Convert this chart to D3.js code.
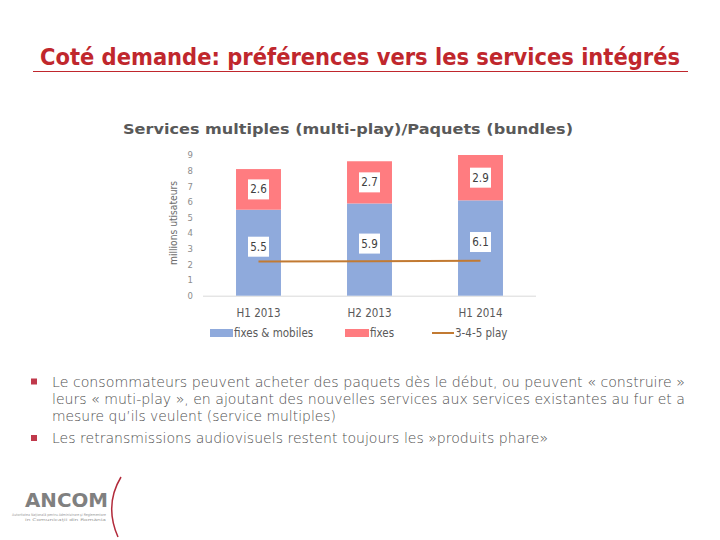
<!DOCTYPE html>
<html><head><meta charset="utf-8">
<script src="https://cdn.jsdelivr.net/npm/d3@7"></script>
<style>body{margin:0;background:#fff}svg{display:block}</style>
</head><body>
<script>
const categories = ["H1 2013", "H2 2013", "H1 2014"];
const fixesMobiles = [5.5, 5.9, 6.1];
const fixes = [2.6, 2.7, 2.9];
const play345 = [2.18, 2.21, 2.24];
const yTicks = [0,1,2,3,4,5,6,7,8,9];
const seriesNames = ["fixes & mobiles", "fixes", "3-4-5 play"];
const bullets = [
  ["Le consommateurs peuvent acheter des paquets dès le début, ou peuvent « construire »",
   "leurs « muti-play », en ajoutant des nouvelles services aux services existantes au fur et a",
   "mesure qu’ils veulent (service multiples)"],
  ["Les retransmissions audiovisuels restent toujours les »produits phare»"]
];

const W=720,H=540;
const svg=d3.select("body").append("svg").attr("width",W).attr("height",H);
const cBlue="#8FAADC", cPink="#FF7C80", cLine="#C27A32", gray="#595959";

// header
svg.append("text").attr("x",40).attr("y",64.5)
  .attr("font-family","DejaVu Sans Condensed, DejaVu Sans").attr("font-weight","bold")
  .attr("font-size",23.5).attr("fill","#C0272D")
  .attr("textLength",640).attr("lengthAdjust","spacingAndGlyphs")
  .text("Coté demande: préférences vers les services intégrés");
svg.append("line").attr("x1",33).attr("x2",688).attr("y1",71.5).attr("y2",71.5).attr("stroke","#C0272D").attr("stroke-width",1);

// chart title
svg.append("text").attr("x",348).attr("y",134).attr("text-anchor","middle")
  .attr("font-family","DejaVu Sans").attr("font-weight","bold").attr("font-size",14.5)
  .attr("fill",gray).attr("textLength",450).attr("lengthAdjust","spacingAndGlyphs")
  .text("Services multiples (multi-play)/Paquets (bundles)");

const x=d3.scaleBand().domain(categories).range([203,536]);
const y=d3.scaleLinear().domain([0,9]).range([295.7,155]);
const bw=x.bandwidth()*0.405;
const cx=c=>x(c)+x.bandwidth()/2;

// axis line
svg.append("line").attr("x1",203).attr("x2",536).attr("y1",y(0)+0.5).attr("y2",y(0)+0.5).attr("stroke","#d9d9d9");

// y ticks
const yAxis=d3.axisLeft(y).tickValues(yTicks).tickSize(0).tickPadding(0).tickFormat(d3.format("d"));
const ga=svg.append("g").attr("transform","translate(193,0)").call(yAxis);
ga.select(".domain").remove();
ga.selectAll("text").attr("font-family","DejaVu Sans").attr("font-size",8.5).attr("fill","#8c8c8c");

// y title
svg.append("text").attr("transform","translate(177,223) rotate(-90)").attr("text-anchor","middle")
  .attr("font-family","DejaVu Sans Condensed").attr("font-size",10.5).attr("fill","#6d6d6d")
  .attr("textLength",84).attr("lengthAdjust","spacingAndGlyphs")
  .text("millions utisateurs");

// bars
const data=categories.map((c,i)=>({c,a:fixesMobiles[i],b:fixes[i],l:play345[i]}));
svg.selectAll(".ba").data(data).join("rect").attr("x",d=>cx(d.c)-bw/2).attr("width",bw)
  .attr("y",d=>y(d.a)).attr("height",d=>y(0)-y(d.a)).attr("fill",cBlue);
svg.selectAll(".bb").data(data).join("rect").attr("x",d=>cx(d.c)-bw/2).attr("width",bw)
  .attr("y",d=>y(d.a+d.b)).attr("height",d=>y(d.a)-y(d.a+d.b)).attr("fill",cPink);

// line
svg.append("path").datum(data).attr("fill","none").attr("stroke",cLine).attr("stroke-width",2)
  .attr("d",d3.line().x(d=>cx(d.c)).y(d=>y(d.l)));

// labels
function label(xc,yc,txt){
  svg.append("rect").attr("x",xc-10.5).attr("y",yc-10).attr("width",21).attr("height",20).attr("fill","#fff");
  svg.append("text").attr("x",xc).attr("y",yc+4).attr("text-anchor","middle")
   .attr("font-family","DejaVu Sans Condensed").attr("font-size",11.5).attr("fill","#404040").text(txt);
}
data.forEach(d=>{
  label(cx(d.c),(y(d.a)+y(0))/2-6,d3.format(".1f")(d.a));
  label(cx(d.c),(y(d.a)+y(d.a+d.b))/2,d3.format(".1f")(d.b));
});

// x labels
svg.selectAll(".xl").data(categories).join("text").attr("x",d=>cx(d)).attr("y",317)
  .attr("text-anchor","middle").attr("font-family","DejaVu Sans Condensed").attr("font-size",11.5)
  .attr("fill",gray).text(d=>d);

// legend
const lg=svg.append("g").attr("font-family","DejaVu Sans Condensed").attr("font-size",11.5).attr("fill",gray);
lg.append("rect").attr("x",210).attr("y",329).attr("width",23).attr("height",8).attr("fill",cBlue);
lg.append("text").attr("x",234).attr("y",337).text(seriesNames[0]);
lg.append("rect").attr("x",345).attr("y",329).attr("width",24).attr("height",8).attr("fill",cPink);
lg.append("text").attr("x",370).attr("y",337).text(seriesNames[1]);
lg.append("line").attr("x1",432).attr("x2",454).attr("y1",333).attr("y2",333).attr("stroke",cLine).attr("stroke-width",2);
lg.append("text").attr("x",455).attr("y",337).text(seriesNames[2]);

// bullets
const bg=svg.append("g").attr("font-family","DejaVu Sans").attr("font-size",13.5).attr("fill","#505050").attr("font-weight","200");
const lineYs=[[386.5,403.5,420.5],[443]];
const widths=[[633,633,284],[496]];
bullets.forEach((b,i)=>{
  bg.append("rect").attr("x",31).attr("y",lineYs[i][0]-8).attr("width",6).attr("height",6).attr("fill","#C0394B");
  b.forEach((t,j)=>{
    bg.append("text").attr("x",52).attr("y",lineYs[i][j]).text(t)
      .attr("textLength",widths[i][j]).attr("lengthAdjust","spacingAndGlyphs");
  });
});

// logo
const logo=svg.append("g");
logo.append("text").attr("x",25).attr("y",507).attr("font-family","DejaVu Sans").attr("font-weight","bold")
  .attr("font-size",19).attr("fill","#808080").attr("textLength",83).attr("lengthAdjust","spacingAndGlyphs").text("ANCOM");
logo.append("text").attr("x",12).attr("y",515.5).attr("font-family","DejaVu Sans").attr("font-size",3.6).attr("fill","#999")
  .attr("textLength",94).attr("lengthAdjust","spacingAndGlyphs").text("Autoritatea Naţională pentru Administrare şi Reglementare");
logo.append("text").attr("x",25).attr("y",520.5).attr("font-family","DejaVu Sans").attr("font-size",3.6).attr("fill","#999")
  .attr("textLength",81).attr("lengthAdjust","spacingAndGlyphs").text("în Comunicaţii din România");
logo.append("path").attr("d","M121,477 Q104,505 118,537").attr("fill","none").attr("stroke","#B22A3A").attr("stroke-width",1.5);
</script>
</body></html>
